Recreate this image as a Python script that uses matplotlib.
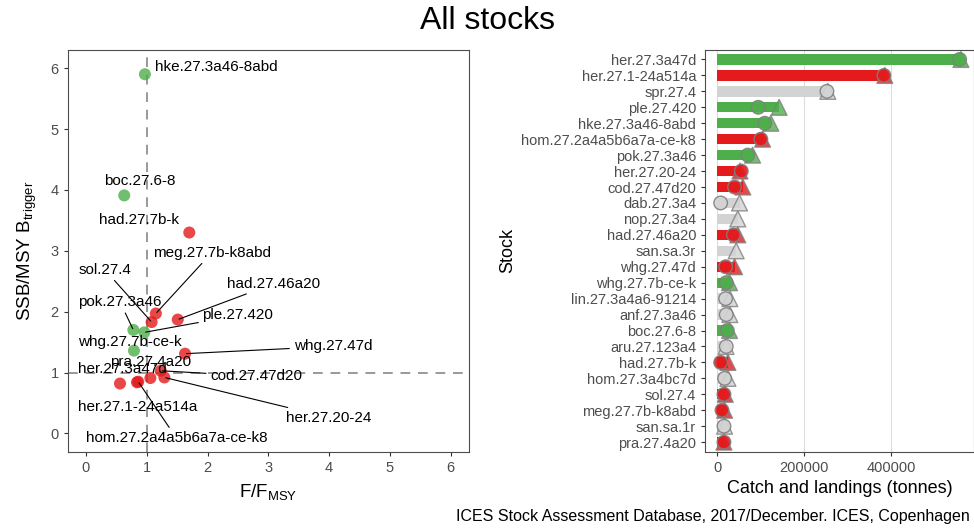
import numpy as np
import matplotlib.pyplot as plt

plt.rcParams['font.family'] = ['Liberation Sans', 'DejaVu Sans']

# ---- Kobe panel data (F/Fmsy vs SSB/MSY Btrigger) ----
kobe_stocks = ['hke.27.3a46-8abd', 'boc.27.6-8', 'had.27.7b-k', 'meg.27.7b-k8abd',
               'sol.27.4', 'had.27.46a20', 'pok.27.3a46', 'ple.27.420',
               'whg.27.7b-ce-k', 'whg.27.47d', 'her.27.3a47d', 'her.27.1-24a514a',
               'hom.27.2a4a5b6a7a-ce-k8', 'pra.27.4a20', 'cod.27.47d20', 'her.27.20-24']
f_ratio = [0.97, 0.63, 1.70, 1.15, 1.08, 1.51, 0.78, 0.96,
           0.79, 1.63, 0.56, 0.84, 0.86, 1.06, 1.23, 1.29]
ssb_ratio = [5.90, 3.91, 3.30, 1.97, 1.83, 1.87, 1.70, 1.66,
             1.36, 1.31, 0.82, 0.84, 0.85, 0.91, 1.03, 0.92]
kobe_status = ['GREEN', 'GREEN', 'RED', 'RED', 'RED', 'RED', 'GREEN', 'GREEN',
               'GREEN', 'RED', 'RED', 'RED', 'RED', 'RED', 'RED', 'RED']

# label placement (data coords) and whether a leader line is drawn
label_pos = {
    'hke.27.3a46-8abd': (2.15, 6.02, False),
    'boc.27.6-8': (0.88, 4.15, False),
    'had.27.7b-k': (0.88, 3.50, False),
    'meg.27.7b-k8abd': (2.07, 2.97, True),
    'sol.27.4': (0.31, 2.69, True),
    'had.27.46a20': (3.09, 2.46, True),
    'pok.27.3a46': (0.56, 2.16, True),
    'ple.27.420': (2.50, 1.94, True),
    'whg.27.7b-ce-k': (0.72, 1.50, False),
    'whg.27.47d': (4.06, 1.43, True),
    'her.27.3a47d': (0.60, 1.06, False),
    'her.27.1-24a514a': (0.85, 0.43, False),
    'hom.27.2a4a5b6a7a-ce-k8': (1.49, -0.08, True),
    'pra.27.4a20': (1.07, 1.18, False),
    'cod.27.47d20': (2.80, 0.94, True),
    'her.27.20-24': (4.00, 0.26, True),
}

# ---- Catch panel data (top to bottom) ----
bar_stocks = ['her.27.3a47d', 'her.27.1-24a514a', 'spr.27.4', 'ple.27.420',
              'hke.27.3a46-8abd', 'hom.27.2a4a5b6a7a-ce-k8', 'pok.27.3a46',
              'her.27.20-24', 'cod.27.47d20', 'dab.27.3a4', 'nop.27.3a4',
              'had.27.46a20', 'san.sa.3r', 'whg.27.47d', 'whg.27.7b-ce-k',
              'lin.27.3a4a6-91214', 'anf.27.3a46', 'boc.27.6-8', 'aru.27.123a4',
              'had.27.7b-k', 'hom.27.3a4bc7d', 'sol.27.4', 'meg.27.7b-k8abd',
              'san.sa.1r', 'pra.27.4a20']
landings = [557000, 383000, 252000, 94000, 109000, 100000, 70000,
            55000, 39500, 7600, np.nan, 37000, np.nan, 19000, 20500,
            19000, 20500, 22800, 20500, 7600, 16700, 15200, 10700,
            15200, 15200]
catches = [560000, 385000, 254000, 142000, 123000, 104000, 81000,
           52000, 58500, 51000, 47000, 47000, 43300, 39500, 28000,
           28700, 28700, 28000, 20000, 24300, 24300, 18200, 16700,
           16700, 15200]
bar_status = ['GREEN', 'RED', 'GREY', 'GREEN', 'GREEN', 'RED', 'GREEN',
              'RED', 'RED', 'GREY', 'GREY', 'RED', 'GREY', 'RED', 'GREEN',
              'GREY', 'GREY', 'GREEN', 'GREY', 'RED', 'GREY', 'RED', 'RED',
              'GREY', 'RED']

colours = {'GREEN': '#4DAF4A', 'RED': '#E41A1C', 'GREY': '#D3D3D3'}
tick_grey = '#4D4D4D'

fig = plt.figure(figsize=(9.74, 5.28), dpi=100)
fig.text(0.5, 0.96, 'All stocks', ha='center', va='center', fontsize=23)

# ---------------- left: Kobe plot ----------------
ax1 = fig.add_axes([0.0695, 0.1445, 0.412, 0.761])
ax1.axvline(1, color='#999999', lw=1.4, ls=(0, (5, 4)), zorder=1)
ax1.axhline(1, color='#999999', lw=1.4, ls=(0, (5, 4)), zorder=1)
ax1.scatter(f_ratio, ssb_ratio, s=75, c=[colours[s] for s in kobe_status],
            alpha=0.8, edgecolors='none', zorder=3)

for name, fx, sy in zip(kobe_stocks, f_ratio, ssb_ratio):
    lx, ly, seg = label_pos[name]
    if seg:
        ax1.annotate(name, xy=(fx, sy), xytext=(lx, ly), ha='center', va='center',
                     fontsize=11, zorder=4,
                     arrowprops=dict(arrowstyle='-', color='black', lw=0.8,
                                     shrinkA=1, shrinkB=1))
    else:
        ax1.text(lx, ly, name, ha='center', va='center', fontsize=11, zorder=4)

ax1.set_xlim(-0.3, 6.3)
ax1.set_ylim(-0.3, 6.3)
ax1.set_xticks(range(7))
ax1.set_yticks(range(7))
ax1.set_xlabel(r'F/F$_{\mathregular{MSY}}$', fontsize=13.5, labelpad=6)
ax1.set_ylabel(r'SSB/MSY B$_{\mathregular{trigger}}$', fontsize=13.5, labelpad=8)
ax1.tick_params(colors='#333333', labelcolor=tick_grey, labelsize=10.5, length=3)
for sp in ax1.spines.values():
    sp.set_color('#4D4D4D')

# ---------------- right: catch bars ----------------
ax2 = fig.add_axes([0.724, 0.1445, 0.2755, 0.761])
ypos = np.arange(len(bar_stocks))[::-1] + 1
bar_len = np.fmax(np.array(landings, float), np.array(catches, float))
cols = [colours[s] for s in bar_status]

ax2.grid(axis='x', color='#DDDDDD', lw=0.8, zorder=0)
ax2.barh(ypos, bar_len, height=0.65, color=cols, zorder=2)
ax2.scatter(catches, ypos, marker='^', s=130, c=cols, alpha=0.8,
            edgecolors='#7F7F7F', linewidths=1.0, zorder=3)
ax2.scatter(landings, ypos, marker='o', s=95, c=cols, alpha=0.9,
            edgecolors='#7F7F7F', linewidths=1.0, zorder=4)

ax2.set_xlim(-28000, 589000)
ax2.set_ylim(0.4, len(bar_stocks) + 0.6)
ax2.set_xticks([0, 200000, 400000])
ax2.set_xticklabels(['0', '200000', '400000'])
ax2.set_yticks(ypos)
ax2.set_yticklabels(bar_stocks)
ax2.set_xlabel('Catch and landings (tonnes)', fontsize=13, labelpad=4)
ax2.set_ylabel('Stock', fontsize=13)
ax2.tick_params(colors='#333333', labelcolor=tick_grey, labelsize=10.5, length=3)
for sp in ax2.spines.values():
    sp.set_color('#4D4D4D')

fig.text(0.996, 0.022, 'ICES Stock Assessment Database, 2017/December. ICES, Copenhagen',
         ha='right', va='center', fontsize=11.5)

plt.savefig('out.png', dpi=100)
